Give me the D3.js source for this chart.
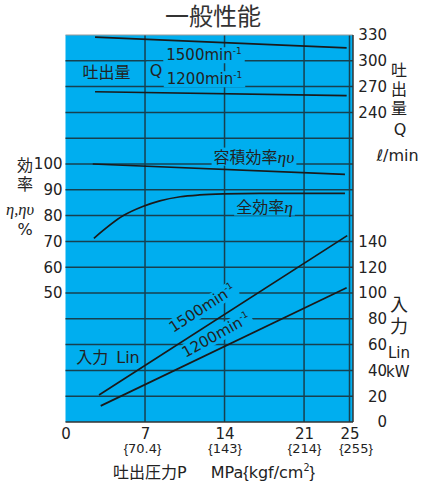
<!DOCTYPE html>
<html><head><meta charset="utf-8">
<script src="https://cdn.jsdelivr.net/npm/d3@7"></script>
<style>
body{margin:0;background:#fff;}
text{font-family:"DejaVu Sans","Noto Sans CJK JP",sans-serif;fill:#222;}
</style></head><body>
<script>
// ---- data ----
const pressureTicks=[0,7,14,21,25];
const gridPressure=[7,14,21,25];
const kgfValues=["70.4","143","214","255"];
const effTicks=[100,90,80,70,60,50];
const flowTicks=[330,300,270,240];
const powerTicks=[140,120,100,80,60,40,20,0];
const powerGrid=[20,40,60,80,100,120,140,160,180,200,220,240,260,280];

const flowP=[2.6,24.75];
const flow1500=[327.5,315];
const flow1200=[264,259.5];
const volEffP=[2.4,24.6];
const volEff=[100,96];
const totEffP=[2.5,5.1,6.8,8.3,10.1,11.8,13.9,17.1,24.6];
const totEff=[71.2,80,83.5,85.7,87.3,88,88.4,88.6,88.6];
const powerP1500=[2.95,24.8];
const power1500=[21,144.5];
const powerP1200=[3.1,24.75];
const power1200=[12.5,104];

// ---- setup ----
const BLUE="#00aeef";
const W=424,H=486;
const L=65.5,R=353,T=35,B=422;
const svg=d3.select("body").append("svg").attr("width",W).attr("height",H);
const x=d3.scaleLinear().domain([0,25]).range([65.5,349.5]);
const yEff=d3.scaleLinear().domain([0,150]).range([B,T]);
const yPow=d3.scaleLinear().domain([0,300]).range([B,T]);
const yQ=d3.scaleLinear().domain([-120,330]).range([B,T]);

svg.append("rect").attr("x",L).attr("y",T).attr("width",R-L).attr("height",B-T).attr("fill",BLUE);

const gGrid=svg.append("g").attr("stroke","#17404f").attr("stroke-width",1.5);
gGrid.selectAll("line.h").data(powerGrid).join("line").attr("class","h")
  .attr("x1",L).attr("x2",R).attr("y1",d=>yPow(d)).attr("y2",d=>yPow(d));
gGrid.selectAll("line.v").data(gridPressure).join("line").attr("class","v")
  .attr("x1",d=>x(d)).attr("x2",d=>x(d)).attr("y1",T).attr("y2",B);

const gLabelBg=svg.append("g");
const gCurves=svg.append("g").attr("fill","none").attr("stroke","#1a1a1a").attr("stroke-width",1.7);
const gLabels=svg.append("g");

// frame
svg.append("line").attr("x1",L).attr("x2",R).attr("y1",T).attr("y2",T).attr("stroke","#9a9a9a").attr("stroke-width",1.2);
svg.append("line").attr("x1",L).attr("x2",R).attr("y1",B).attr("y2",B).attr("stroke","#333").attr("stroke-width",1.5);
svg.append("line").attr("x1",R).attr("x2",R).attr("y1",T).attr("y2",B).attr("stroke","#333").attr("stroke-width",1.5);

function curve(xs,ys,ys_scale,cv){
  const pts=xs.map((p,i)=>[p,ys[i]]);
  gCurves.append("path").attr("d",d3.line().x(d=>x(d[0])).y(d=>ys_scale(d[1])).curve(cv||d3.curveLinear)(pts));
}
curve(flowP,flow1500,yQ);
curve(flowP,flow1200,yQ);
curve(volEffP,volEff,yEff);
curve(totEffP,totEff,yEff,d3.curveMonotoneX);
curve(powerP1500,power1500,yPow);
curve(powerP1200,power1200,yPow);

function richText(parent,parts,size){
  const t=parent.append("text").attr("font-size",size);
  let shift=0;
  parts.forEach(p=>{
    const s=t.append("tspan").text(p.t);
    if(p.it) s.attr("font-family","Liberation Serif").attr("font-style","italic").attr("font-size",size*1.1);
    if(p.br) s.attr("font-family","Liberation Sans");
    if(p.sup){ s.attr("font-size",size*0.6).attr("dy",-size*0.4); shift=size*0.4; }
    else if(shift){ s.attr("dy",shift); shift=0; }
  });
  return t;
}
function label(cx,cy,parts,size,opt){
  opt=opt||{};
  const tr=`translate(${cx},${cy}) rotate(${opt.rot||0})`;
  const g=(opt.parent||gLabels).append("g").attr("transform",tr);
  const t=richText(g,parts,size).attr("text-anchor",opt.anchor||"middle").attr("y",size*0.35);
  if(opt.fill) t.style("fill",opt.fill);
  if(opt.bg){
    const bb=t.node().getBBox(), p=opt.pad||2;
    gLabelBg.append("rect").attr("transform",tr).attr("x",bb.x-p).attr("y",bb.y+1).attr("width",bb.width+2*p).attr("height",bb.height-2).attr("fill",BLUE);
  }
  return t;
}
const sup=[{t:"-1",sup:true}];

// in-plot labels
label(106.5,72,[{t:"吐出量"}],16,{bg:true,pad:4});
label(156,70,[{t:"Q"}],16,{bg:true,pad:3});
label(204,55,[{t:"1500min"}].concat(sup),15,{bg:true,pad:3});
label(204.5,79,[{t:"1200min"}].concat(sup),15,{bg:true,pad:3});
label(254,157,[{t:"容積効率"},{t:"ηυ",it:true}],16,{bg:true,pad:2});
label(264.5,207,[{t:"全効率"},{t:"η",it:true}],16,{bg:true,pad:2});
label(108,357,[{t:"入力\u2002Lin"}],16,{bg:true,pad:2});
label(202,308,[{t:"1500min"}].concat(sup),15,{bg:true,pad:2,rot:-33});
label(216,335,[{t:"1200min"}].concat(sup),15,{bg:true,pad:2,rot:-29});

// axes
function styleAxis(g,size){
  g.attr("font-family",null).attr("font-size",size).style("color","#222");
  g.select(".domain").remove();
}
svg.append("g").attr("transform",`translate(${L},0)`)
  .call(d3.axisLeft(yEff).tickValues(effTicks).tickSize(0).tickPadding(3))
  .call(g=>styleAxis(g,15));
svg.append("g").attr("transform",`translate(387,0)`)
  .call(d3.axisLeft(yQ).tickValues(flowTicks).tickSize(0).tickPadding(0))
  .call(g=>styleAxis(g,15));
svg.append("g").attr("transform",`translate(387,0)`)
  .call(d3.axisLeft(yPow).tickValues(powerTicks).tickSize(0).tickPadding(0))
  .call(g=>styleAxis(g,15));
svg.append("g").attr("transform",`translate(0,${B})`)
  .call(d3.axisBottom(x).tickValues(pressureTicks).tickSize(0).tickPadding(6))
  .call(g=>styleAxis(g,15));
svg.append("g").attr("transform",`translate(0,${B})`)
  .call(d3.axisBottom(x).tickValues(gridPressure).tickSize(0).tickPadding(22).tickFormat((d,i)=>kgfValues[i]))
  .call(g=>styleAxis(g,13))
  .call(g=>g.selectAll("text").each(function(d,i){
     const t=d3.select(this); t.text(null);
     t.append("tspan").attr("font-family","Liberation Sans").text("{");
     t.append("tspan").text(kgfValues[i]);
     t.append("tspan").attr("font-family","Liberation Sans").text("}");
     if(i===3) t.attr("dx",6);
     if(i===0) t.attr("dx",-3);
  }));

// outside labels
label(213,17,[{t:"一般性能"}],24,{fill:"#333"});
label(25,165,[{t:"効"}],16);
label(25,184,[{t:"率"}],16);
label(20,210,[{t:"η,ηυ",it:true}],15);
label(25,229,[{t:"%"}],16);
label(399,70,[{t:"吐"}],16);
label(399,89,[{t:"出"}],16);
label(399,108,[{t:"量"}],16);
label(400,129,[{t:"Q"}],16);
label(397.5,155,[{t:"ℓ/min"}],16);
label(399,305,[{t:"入"}],18);
label(399,327,[{t:"力"}],18);
label(388,353,[{t:"Lin"}],15,{anchor:"start"});
label(386,372,[{t:"kW"}],15,{anchor:"start"});
label(214,472,[{t:"吐出圧力P\u3000\u2002MPa"},{t:"{",br:true},{t:"kgf/cm"},{t:"2",sup:true},{t:"}",br:true}],16);
</script>
</body></html>
